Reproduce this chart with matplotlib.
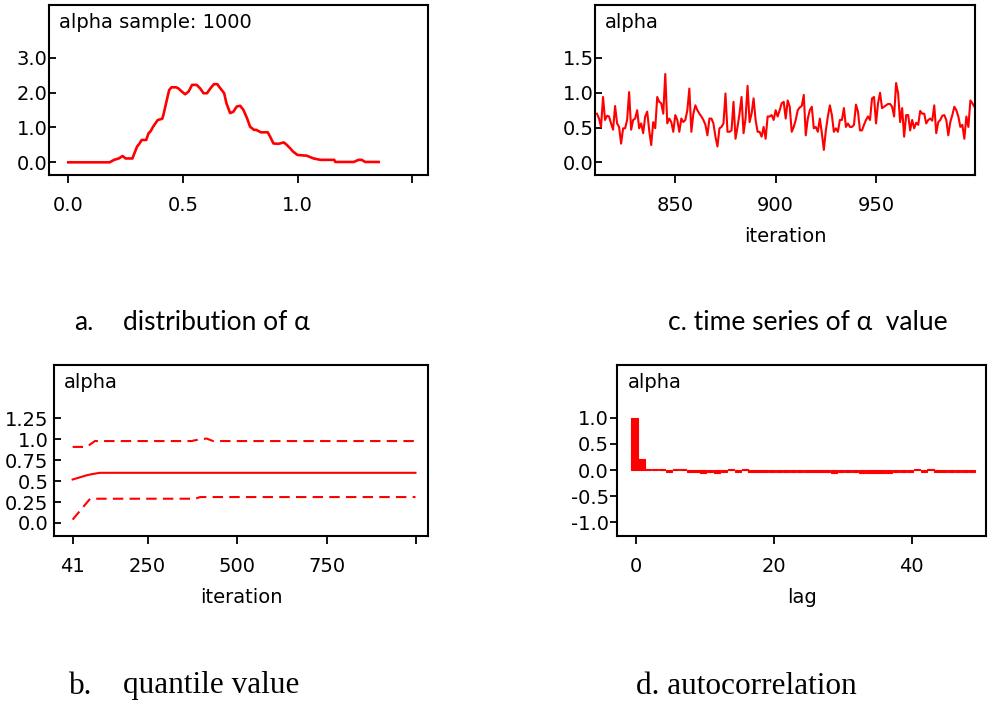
import numpy as np
import matplotlib
matplotlib.use("Agg")
import matplotlib.pyplot as plt

plt.rcParams['font.family'] = ['DejaVu Sans']

RED = '#ff0000'

# a. kernel density of alpha
dens_x = [0.0, 0.18, 0.20, 0.22, 0.237, 0.25, 0.28, 0.285, 0.30, 0.31, 0.32, 0.34,
          0.35, 0.36, 0.37, 0.39, 0.41, 0.415, 0.43, 0.44, 0.45, 0.47, 0.48, 0.495,
          0.51, 0.525, 0.54, 0.56, 0.575, 0.59, 0.605, 0.62, 0.635, 0.65, 0.66,
          0.68, 0.69, 0.706, 0.72, 0.735, 0.75, 0.764, 0.78, 0.793, 0.81, 0.82,
          0.84, 0.87, 0.88, 0.895, 0.917, 0.94, 0.953, 0.968, 0.98, 1.0, 1.04,
          1.07, 1.10, 1.16, 1.165, 1.245, 1.266, 1.28, 1.295, 1.354]
dens_y = [0.0, 0.0, 0.07, 0.11, 0.18, 0.11, 0.11, 0.20, 0.45, 0.53, 0.64, 0.64,
          0.83, 0.90, 1.02, 1.21, 1.25, 1.36, 1.79, 2.07, 2.15, 2.15, 2.12, 2.03,
          1.95, 2.03, 2.22, 2.22, 2.12, 1.98, 1.98, 2.12, 2.24, 2.24, 2.15,
          1.98, 1.69, 1.41, 1.45, 1.60, 1.62, 1.50, 1.26, 1.02, 0.93, 0.93,
          0.86, 0.86, 0.74, 0.54, 0.53, 0.57, 0.50, 0.40, 0.31, 0.21, 0.19,
          0.11, 0.07, 0.07, 0.01, 0.01, 0.07, 0.07, 0.01, 0.01]

# c. trace of alpha, last iterations
trace_start = 811
trace = [0.70, 0.63, 0.51, 0.94, 0.61, 0.67, 0.66, 0.56, 0.47, 0.81,
         0.56, 0.51, 0.27, 0.49, 0.49, 0.61, 1.01, 0.47, 0.61, 0.63,
         0.75, 0.49, 0.56, 0.42, 0.66, 0.73, 0.46, 0.25, 0.58, 0.49,
         0.94, 0.87, 0.85, 0.70, 1.27, 0.56, 0.63, 0.58, 0.44, 0.68,
         0.61, 0.44, 0.63, 0.58, 0.61, 0.75, 1.06, 0.44, 0.70, 0.82,
         0.75, 0.70, 0.66, 0.61, 0.54, 0.39, 0.63, 0.63, 0.56, 0.37,
         0.23, 0.49, 0.51, 0.56, 0.99, 0.44, 0.44, 0.46, 0.87, 0.34,
         0.51, 0.70, 0.94, 0.42, 0.63, 1.10, 0.58, 0.70, 0.92, 0.61,
         0.44, 0.44, 0.37, 0.51, 0.34, 0.66, 0.66, 0.68, 0.61, 0.75,
         0.66, 0.75, 0.85, 0.87, 0.63, 0.89, 0.80, 0.44, 0.51, 0.61,
         0.75, 0.79, 0.81, 0.97, 0.39, 0.63, 0.75, 0.80, 0.49, 0.51,
         0.44, 0.63, 0.42, 0.18, 0.46, 0.66, 0.82, 0.68, 0.44, 0.49,
         0.44, 0.61, 0.61, 0.78, 0.51, 0.56, 0.51, 0.51, 0.54, 0.83,
         0.73, 0.46, 0.46, 0.54, 0.61, 0.66, 0.61, 0.92, 0.94, 0.56,
         0.85, 1.00, 0.78, 0.80, 0.82, 0.84, 0.84, 0.80, 0.66, 1.14,
         0.99, 0.58, 0.78, 0.37, 0.68, 0.68, 0.46, 0.61, 0.49, 0.57,
         0.54, 0.74, 0.70, 0.70, 0.56, 0.61, 0.63, 0.60, 0.82, 0.42,
         0.58, 0.61, 0.67, 0.68, 0.61, 0.39, 0.58, 0.68, 0.80, 0.75,
         0.66, 0.51, 0.54, 0.34, 0.66, 0.51, 0.89, 0.85, 0.80]

# b. running quantiles
q_iter = [41, 80, 90, 103, 117, 373, 383, 397, 415, 433, 998]
q_median = [0.52, 0.57, 0.58, 0.59, 0.60, 0.60, 0.60, 0.60, 0.60, 0.60, 0.60]
q_upper = [0.91, 0.91, 0.94, 0.98, 0.98, 0.98, 0.99, 1.00, 1.01, 0.98, 0.98]
q_lower = [0.04, 0.24, 0.29, 0.29, 0.29, 0.29, 0.29, 0.31, 0.31, 0.31, 0.31]

# d. autocorrelation by lag
acf = [1.0, 0.22, 0.03, 0.03, 0.03, -0.04, 0.03, 0.03, -0.03, -0.03,
       -0.06, -0.03, -0.06, -0.03, 0.03, -0.04, 0.03, -0.03, -0.03, -0.03,
       -0.03, -0.03, -0.03, -0.03, -0.03, -0.03, -0.03, -0.03, -0.03, -0.06,
       -0.03, -0.03, -0.03, -0.05, -0.05, -0.05, -0.05, -0.05, -0.03, -0.03,
       -0.03, 0.03, -0.03, 0.03, -0.03, -0.03, -0.03, -0.03, -0.03, -0.03]

W, H = 988, 705
fig = plt.figure(figsize=(W / 100, H / 100), dpi=100)
FS = 14


def box(l, t, r, b):
    return fig.add_axes([l / W, 1 - b / H, (r - l) / W, (b - t) / H])


def style(ax, ydir='in', ypad=1):
    for s in ax.spines.values():
        s.set_linewidth(1.5)
    ax.tick_params(axis='x', direction='out', length=6, width=1.3, pad=9, labelsize=FS)
    ax.tick_params(axis='y', direction=ydir, length=5, width=1.3, pad=ypad, labelsize=FS)


# a
ax = box(49, 5, 428, 175)
ax.plot(dens_x, dens_y, color=RED, lw=1.9)
ax.set_xlim(-0.084, 1.569)
ax.set_ylim(-0.364, 4.51)
ax.set_xticks([0, 0.5, 1.0, 1.5], ['0.0', '0.5', '1.0', ''])
ax.set_yticks([0, 1, 2, 3], ['0.0', '1.0', '2.0', '3.0'])
style(ax)
ax.text(0.027, 0.9, 'alpha sample: 1000', transform=ax.transAxes, fontsize=FS, va='center')

# c
ax = box(595, 5, 975, 175)
ax.plot(np.arange(len(trace)) + trace_start, trace, color=RED, lw=1.5)
ax.set_xlim(810, 999.3)
ax.set_ylim(-0.18, 2.26)
ax.set_xticks([850, 900, 950])
ax.set_yticks([0, 0.5, 1.0, 1.5], ['0.0', '0.5', '1.0', '1.5'])
style(ax)
ax.set_xlabel('iteration', fontsize=FS, labelpad=9)
ax.text(0.027, 0.9, 'alpha', transform=ax.transAxes, fontsize=FS, va='center')

# b
ax = box(54, 365, 428, 536)
ax.plot(q_iter, q_median, color=RED, lw=1.5)
ax.plot(q_iter, q_upper, color=RED, lw=1.5, ls=(0, (5, 3)))
ax.plot(q_iter, q_lower, color=RED, lw=1.5, ls=(0, (5, 3)))
ax.set_xlim(-11, 1033)
ax.set_ylim(-0.156, 1.89)
ax.set_xticks([41, 250, 500, 750, 1000], ['41', '250', '500', '750', ''])
ax.set_yticks([0, 0.25, 0.5, 0.75, 1.0, 1.25], ['0.0', '0.25', '0.5', '0.75', '1.0', '1.25'])
style(ax, ypad=4)
ax.set_xlabel('iteration', fontsize=FS, labelpad=9)
ax.text(0.027, 0.9, 'alpha', transform=ax.transAxes, fontsize=FS, va='center')

# d
ax = box(617, 365, 986, 536)
lags = np.arange(len(acf))
ax.bar(lags - 0.25, acf, width=0.9, color=RED, edgecolor=RED, linewidth=0.8)
ax.set_xlim(-2.8, 50.8)
ax.set_ylim(-1.26, 2.01)
ax.set_xticks([0, 20, 40])
ax.set_yticks([-1.0, -0.5, 0, 0.5, 1.0], ['-1.0', '-0.5', '0.0', '0.5', '1.0'])
style(ax, ydir='out', ypad=1)
ax.set_xlabel('lag', fontsize=FS, labelpad=9)
ax.text(0.03, 0.9, 'alpha', transform=ax.transAxes, fontsize=FS, va='center')

# captions
cap = dict(fontsize=19, va='center', family=['Lato', 'DejaVu Sans'])
fig.text(74 / W, 1 - 322 / H, 'a.', **cap)
fig.text(123 / W, 1 - 322 / H, 'distribution of α', **cap)
fig.text(668 / W, 1 - 322 / H, 'c. time series of α  value', **cap)

serif = dict(fontsize=22.5, va='center', family=['Liberation Serif', 'DejaVu Serif'])
fig.text(69 / W, 1 - 686 / H, 'b.', **serif)
fig.text(123 / W, 1 - 686 / H, 'quantile value', **serif)
fig.text(636 / W, 1 - 686 / H, 'd. autocorrelation', **serif)

fig.savefig('out.png', dpi=100)
